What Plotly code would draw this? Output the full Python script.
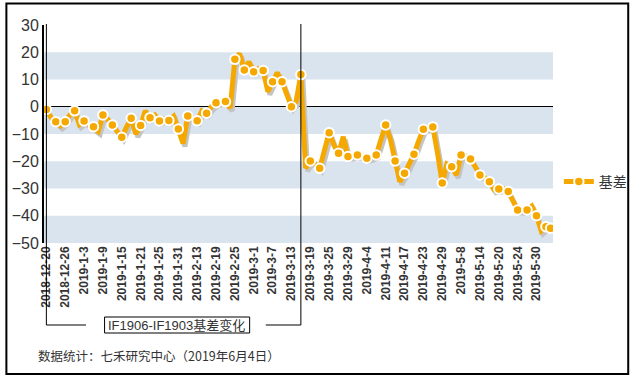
import plotly.graph_objects as go

# ---- data ----
tick_labels = ["2018-12-20", "2018-12-26", "2019-1-3", "2019-1-9", "2019-1-15", "2019-1-21",
               "2019-1-25", "2019-1-31", "2019-2-13", "2019-2-19", "2019-2-25", "2019-3-1",
               "2019-3-7", "2019-3-13", "2019-3-19", "2019-3-25", "2019-3-29", "2019-4-4",
               "2019-4-11", "2019-4-17", "2019-4-23", "2019-4-29", "2019-5-8", "2019-5-14",
               "2019-5-20", "2019-5-24", "2019-5-30"]
days_per_label = 4

basis = [-1, -4, -5.5, -7, -5.5, -3, -1.5, -6.5, -5.2, -6.5,
         -7.3, -9, -3, -4.5, -6.7, -9, -11.2, -7.5, -4.2, -10,
         -6.9, -1.5, -4, -3, -5.2, -4.5, -5, -3.5, -8.2, -13.5,
         -3.4, -4, -5.1, -1.5, -2.4, 0, 1.5, 2, 1.9, -0.5,
         17.4, 19.5, 13.5, 16.5, 12.8, 14, 13.3, 5.5, 9.2, 12.5,
         9.2, 4.5, 0, 2, 11.8, -22.5, -19.9, -21, -22.6, -16,
         -9.5, -14, -17.1, -11, -18.3, -18, -17.7, -18, -18.9, -18.5,
         -17.7, -12, -6.7, -12, -19.9, -27.5, -24.4, -21, -17.4, -12.5,
         -8.3, -7.5, -7.4, -17, -28, -21, -22, -25, -17.7, -18,
         -19.2, -22, -25, -26, -27.5, -30.5, -30.2, -30, -31.1, -34.5,
         -37.9, -38, -37.9, -36.5, -40, -45.5, -44, -44.6]
series_name = "基差"
expiry_index = 54          # 2019-3-15, IF1903 expiry
bracket_label = "IF1906-IF1903基差变化"
footer = "数据统计：七禾研究中心（2019年6月4日）"

y_ticks = [30, 20, 10, 0, -10, -20, -30, -40, -50]
bands = [(10, 20), (-10, 0), (-30, -20), (-50, -40)]

# ---- style ----
W, H = 644, 378
ML, MR, MT, MB = 42, 81, 25, 135
PW, PH = W - ML - MR, H - MT - MB
ORANGE = "#F5A800"
BAND = "#DAE4EF"
TXT = "#333333"
LATIN = "Liberation Sans, Arial, sans-serif"
CJK = "Liberation Sans, Noto Sans CJK SC, sans-serif"

n = len(basis)
xs = list(range(n))
xr = [-0.5, n - 0.5]
yr = [-50, 30]
px_x = PW / (xr[1] - xr[0])
px_y = PH / (yr[1] - yr[0])
shx, shy = 2, 3  # shadow offset in px

mk_idx = list(range(0, n, 2))
if mk_idx[-1] != n - 1:
    mk_idx.append(n - 1)

def px2x(p):
    return xr[0] + (p - ML) / px_x

def py2paper(p):
    return (H - MB - p) / PH

def px2paper(p):
    return (p - ML) / PW

fig = go.Figure()

# shadow
fig.add_trace(go.Scatter(x=xs, y=basis, mode="lines", xaxis="x2", yaxis="y2",
                         line=dict(color="#C4C4C4", width=5), showlegend=False,
                         hoverinfo="skip"))
# main line
fig.add_trace(go.Scatter(x=xs, y=basis, mode="lines", xaxis="x3", yaxis="y3",
                         line=dict(color=ORANGE, width=5), showlegend=False))
# markers
fig.add_trace(go.Scatter(x=[xs[i] for i in mk_idx], y=[basis[i] for i in mk_idx],
                         mode="markers", xaxis="x3", yaxis="y3",
                         marker=dict(color=ORANGE, size=9.5, line=dict(color="white", width=2)),
                         showlegend=False))
# legend entry
fig.add_trace(go.Scatter(x=[None], y=[None], mode="lines+markers", name=series_name,
                         xaxis="x3", yaxis="y3",
                         line=dict(color=ORANGE, width=5),
                         marker=dict(color=ORANGE, size=9.5, line=dict(color="white", width=2))))

shapes = []
for lo, hi in bands:
    shapes.append(dict(type="rect", xref="paper", yref="y", x0=0, x1=1, y0=lo, y1=hi,
                       fillcolor=BAND, line=dict(width=0), layer="below"))

yb = py2paper(325)
ytop = py2paper(24)
shapes += [
    dict(type="line", xref="x", yref="paper", x0=0, x1=0, y0=ytop, y1=yb,
         line=dict(color="black", width=1)),
    dict(type="line", xref="x", yref="paper", x0=expiry_index, x1=expiry_index, y0=ytop, y1=yb,
         line=dict(color="black", width=1)),
    dict(type="line", xref="x", yref="paper", x0=0, x1=px2x(85), y0=yb, y1=yb,
         line=dict(color="black", width=1)),
    dict(type="line", xref="x", yref="paper", x0=px2x(269), x1=expiry_index, y0=yb, y1=yb,
         line=dict(color="black", width=1)),
    dict(type="rect", xref="x", yref="paper", x0=px2x(104), x1=px2x(252.5),
         y0=py2paper(317), y1=py2paper(333), line=dict(color="black", width=1),
         fillcolor="white"),
    dict(type="rect", xref="paper", yref="paper", x0=px2paper(3.5), x1=px2paper(640),
         y0=py2paper(3.5), y1=py2paper(374), line=dict(color="black", width=2)),
]

annotations = [
    dict(text=bracket_label, xref="x", yref="paper", x=px2x(178), y=py2paper(325),
         showarrow=False, xanchor="center", yanchor="middle",
         font=dict(family=CJK, size=13, color=TXT)),
    dict(text=footer, xref="paper", yref="paper", x=px2paper(34), y=py2paper(355),
         showarrow=False, xanchor="left", yanchor="middle",
         font=dict(family="Noto Sans CJK SC, sans-serif", size=12.5, color=TXT)),
]

fig.update_layout(
    width=W, height=H,
    margin=dict(l=ML, r=MR, t=MT, b=MB, pad=0),
    paper_bgcolor="white", plot_bgcolor="white",
    showlegend=True,
    legend=dict(x=px2paper(569), y=py2paper(182), xanchor="left", yanchor="middle",
                font=dict(family="Noto Sans CJK SC, sans-serif", size=14, color=TXT),
                bgcolor="rgba(0,0,0,0)", itemwidth=30),
    xaxis=dict(range=xr, tickmode="array",
               tickvals=[k * days_per_label for k in range(len(tick_labels))],
               ticktext=tick_labels, tickangle=-90, showgrid=False, zeroline=False,
               showline=False, ticks="",
               tickfont=dict(family=LATIN, size=12, color=TXT, weight="bold")),
    yaxis=dict(range=yr, tickmode="array", tickvals=y_ticks, showgrid=False,
               zeroline=True, zerolinecolor="black", zerolinewidth=1,
               showline=True, linecolor="black", linewidth=2, ticks="",
               tickfont=dict(family=LATIN, size=16, color=TXT)),
    xaxis2=dict(overlaying="x", range=[xr[0] - shx / px_x, xr[1] - shx / px_x], visible=False),
    yaxis2=dict(overlaying="y", range=[yr[0] + shy / px_y, yr[1] + shy / px_y], visible=False),
    xaxis3=dict(overlaying="x", range=xr, visible=False),
    yaxis3=dict(overlaying="y", range=yr, visible=False),
    shapes=shapes,
    annotations=annotations,
)

fig.write_html("out.html", config={"displayModeBar": False},
               post_script="document.body.style.margin='0';document.body.style.overflow='hidden';")
